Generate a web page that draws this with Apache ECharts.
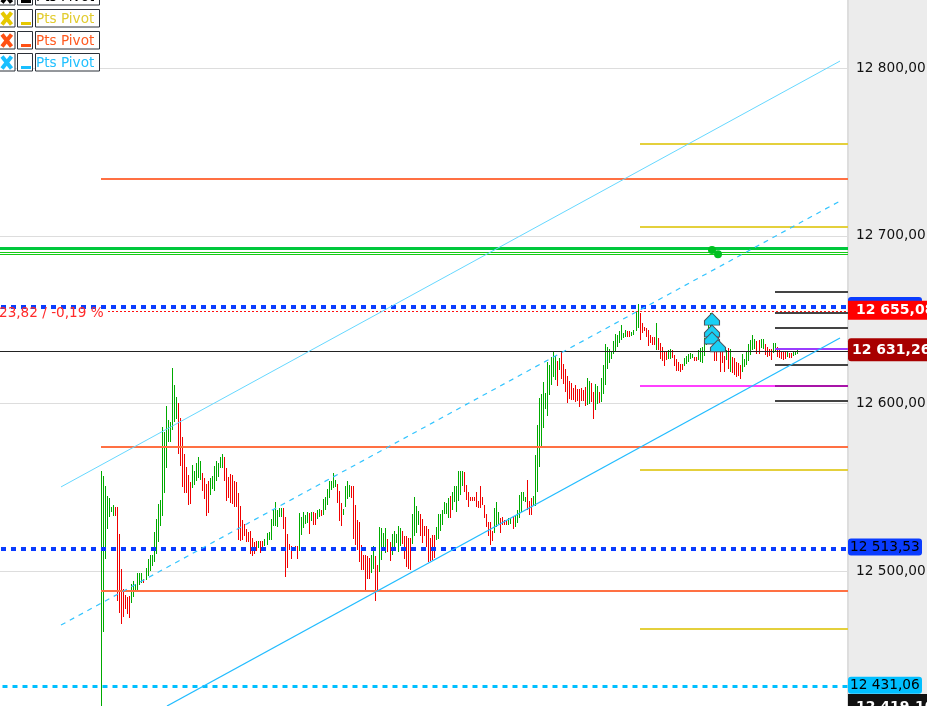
<!DOCTYPE html>
<html><head><meta charset="utf-8">
<style>html,body{margin:0;padding:0;background:#fff}#c{width:927px;height:706px}</style>
<script src="https://cdn.jsdelivr.net/npm/echarts@6/dist/echarts.min.js"></script>
</head><body><div id="c"></div>
<script>
// [high, low, dir] one per bar (1 = up/green, 0 = down/red)
var priceBars = [
[12559.8,12419.5,1],[12556.8,12463.8,1],[12550.8,12507.3,1],[12544.9,12525.2,1],[12543.7,12532.4,1],
[12538.3,12535.3,1],[12539.5,12532.9,1],[12538.3,12532.9,0],[12538.3,12482.3,0],[12522.2,12475.1,0],
[12501.3,12468.5,0],[12489.4,12472.7,0],[12485.9,12477.5,0],[12484.7,12474.5,0],[12485.3,12472.1,0],
[12492.4,12481.1,1],[12494.2,12484.7,1],[12492.4,12488.8,1],[12498.9,12488.8,1],[12498.9,12491.8,1],
[12498.9,12493.0,1],[12495.4,12493.0,0],[12501.9,12494.8,1],[12507.3,12497.2,1],[12509.7,12500.1,1],
[12509.7,12503.1,1],[12523.4,12505.5,1],[12531.2,12510.3,1],[12540.1,12517.4,1],[12542.5,12527.0,1],
[12586.0,12532.9,1],[12583.0,12546.7,1],[12598.6,12561.6,1],[12590.2,12577.1,1],[12589.0,12577.1,1],
[12621.2,12584.2,1],[12611.1,12589.0,1],[12603.9,12590.8,1],[12600.3,12569.9,0],[12591.4,12562.8,0],
[12580.1,12550.2,0],[12569.9,12546.7,0],[12562.2,12546.7,0],[12557.4,12539.5,0],[12553.2,12540.1,0],
[12563.4,12549.6,1],[12559.8,12551.4,1],[12564.6,12553.8,1],[12568.2,12555.6,1],[12565.8,12554.4,1],
[12558.6,12547.9,0],[12555.6,12543.1,0],[12552.0,12532.9,0],[12553.8,12534.7,0],[12555.6,12545.5,1],
[12556.8,12549.0,1],[12562.8,12547.9,1],[12565.8,12553.8,1],[12564.6,12556.2,1],[12568.2,12561.6,1],
[12569.9,12561.6,1],[12568.2,12553.8,0],[12561.6,12541.9,0],[12556.2,12543.7,0],[12558.0,12540.7,0],
[12557.4,12540.1,0],[12553.8,12538.3,0],[12553.2,12538.3,0],[12546.7,12518.6,0],[12538.9,12518.0,0],
[12530.6,12518.6,0],[12528.2,12521.0,0],[12525.2,12517.4,0],[12523.4,12517.4,0],[12524.0,12510.3,0],
[12519.8,12509.1,0],[12517.4,12510.3,0],[12518.0,12512.1,0],[12518.0,12513.9,1],[12518.0,12510.9,0],
[12518.0,12512.7,0],[12519.2,12515.1,1],[12522.8,12515.7,1],[12523.4,12518.6,1],
[12531.2,12518.6,1],[12536.5,12527.0,1],[12541.3,12527.0,1],[12536.5,12526.4,1],[12537.7,12532.4,1],
[12537.7,12532.4,1],[12537.7,12525.2,0],[12532.4,12496.6,0],[12522.2,12501.9,0],[12516.3,12512.7,0],
[12515.1,12507.3,0],[12513.3,12512.1,1],[12515.1,12512.7,0],[12515.1,12507.3,0],[12534.7,12512.1,1],
[12532.4,12521.6,1],[12535.3,12525.8,1],[12533.5,12528.2,1],[12535.3,12528.8,1],[12534.7,12522.2,0],
[12535.3,12530.0,1],[12535.3,12527.6,0],[12534.7,12527.6,0],[12536.5,12531.2,1],[12537.1,12532.4,1],
[12536.5,12532.9,0],[12543.1,12533.5,1],[12544.3,12536.5,1],[12549.0,12539.5,1],[12553.8,12543.7,1],
[12553.8,12548.5,1],[12558.6,12549.6,1],[12554.4,12550.2,1],[12552.0,12540.7,0],[12547.9,12530.0,0],
[12540.7,12527.0,0],[12537.1,12533.5,1],[12550.8,12538.3,1],[12553.8,12543.1,1],[12551.4,12544.3,1],
[12550.8,12543.7,0],[12550.8,12519.2,0],[12539.5,12515.7,0],[12530.6,12512.7,0],[12529.4,12505.5,0],
[12515.7,12500.7,0],[12509.7,12500.7,0],[12509.7,12488.8,0],[12509.1,12495.4,0],[12507.9,12495.4,0],
[12509.7,12498.9,1],[12515.1,12501.3,1],[12509.1,12482.3,0],[12503.7,12488.8,0],[12526.4,12499.5,1],
[12525.8,12506.7,1],[12522.8,12513.9,1],[12525.8,12510.9,1],[12519.2,12511.5,0],[12517.4,12506.1,0],
[12522.2,12509.7,1],[12524.0,12513.3,1],[12522.2,12516.8,1],[12527.0,12511.5,1],[12525.8,12515.1,1],
[12524.0,12516.3,0],[12521.0,12507.3,0],[12521.0,12502.5,0],[12519.8,12501.3,0],[12519.8,12500.7,0],
[12534.1,12516.3,1],[12544.3,12521.0,1],[12538.9,12522.8,1],[12535.9,12527.6,1],[12534.1,12521.0,0],
[12531.2,12516.8,0],[12527.0,12521.0,0],[12527.0,12514.5,0],[12525.2,12505.5,0],[12519.8,12506.1,0],
[12521.6,12506.7,0],[12521.6,12507.9,0],[12526.4,12518.6,1],[12534.1,12519.2,1],[12534.1,12524.0,1],
[12536.5,12527.6,1],[12541.3,12534.1,1],[12540.7,12534.1,1],[12543.7,12531.8,1],[12544.9,12531.8,0],
[12547.3,12536.5,1],[12550.8,12541.3,1],[12550.8,12535.3,1],[12559.8,12541.9,1],[12559.8,12545.5,1],
[12559.8,12550.8,1],[12559.2,12547.3,0],[12551.4,12542.5,0],[12547.3,12538.3,0],
[12544.3,12541.9,0],[12544.3,12541.9,0],[12544.3,12541.9,0],[12547.3,12538.3,0],[12541.9,12537.7,0],
[12550.8,12537.7,0],[12544.3,12539.5,0],[12539.5,12531.8,0],[12534.1,12526.4,0],[12529.4,12521.0,0],
[12529.4,12515.7,0],[12524.0,12518.0,0],[12537.7,12522.8,1],[12541.3,12526.4,1],[12535.3,12528.2,1],
[12531.8,12522.8,0],[12532.4,12527.6,0],[12530.6,12527.6,0],[12530.6,12527.6,0],[12531.8,12527.6,1],
[12531.8,12528.2,1],[12532.4,12525.2,0],[12532.9,12526.4,1],[12536.5,12528.8,1],[12545.5,12531.8,1],
[12547.3,12535.3,1],[12547.3,12541.9,1],[12544.3,12541.3,1],[12554.4,12536.5,0],[12541.9,12533.5,0],
[12543.7,12533.5,0],[12544.9,12539.5,1],[12569.3,12538.9,1],[12587.2,12547.3,1],[12603.3,12562.2,1],
[12605.7,12574.7,1],[12612.9,12585.4,1],[12606.3,12596.8,1],[12624.8,12592.6,1],[12623.0,12605.1,1],
[12627.8,12611.1,1],[12630.8,12615.9,1],[12628.4,12614.1,1],[12625.4,12610.5,0],[12627.2,12620.0,1],
[12630.8,12614.7,0],[12623.6,12611.7,0],[12620.6,12606.9,0],[12616.5,12600.3,0],[12613.5,12602.7,0],
[12612.3,12602.1,0],[12609.3,12602.1,0],[12611.1,12600.9,0],[12608.7,12601.5,0],[12608.7,12598.0,0],
[12609.3,12601.5,0],[12608.1,12601.5,0],[12609.9,12598.6,0],[12615.3,12599.2,1],[12613.5,12599.8,1],
[12612.3,12600.9,0],[12606.9,12590.8,0],[12611.7,12596.2,1],[12610.5,12599.8,1],[12606.9,12600.3,0],
[12615.3,12600.9,1],[12623.0,12605.7,1],[12635.5,12611.1,1],[12633.7,12620.6,1],[12632.6,12624.2,1],
[12631.4,12626.6,1],[12637.3,12629.6,1],[12641.5,12630.8,1],[12640.9,12633.8,1],[12643.3,12636.1,1],
[12646.9,12637.9,1],[12642.1,12639.1,1],[12643.9,12639.7,1],[12643.3,12639.7,0],[12643.3,12639.7,0],
[12642.7,12640.3,1],[12643.9,12640.9,1],[12655.2,12643.3,1],[12659.4,12645.1,1],[12654.0,12637.9,0],
[12648.1,12642.1,0],[12645.7,12643.3,0],[12645.1,12639.7,0],[12643.9,12634.4,0],[12640.9,12636.1,0],
[12639.7,12634.9,0],[12639.7,12634.9,0],[12648.1,12632.0,1],[12639.1,12632.0,0],[12636.1,12626.6,0],
[12633.7,12625.4,0],[12630.8,12622.4,0],[12630.8,12626.0,0],[12632.0,12626.6,1],[12632.6,12626.6,1],
[12632.0,12627.2,0],[12629.0,12622.4,0],[12626.6,12619.4,0],[12624.8,12619.4,0],[12623.6,12618.8,0],
[12623.6,12620.0,0],[12627.2,12622.4,1],[12628.4,12623.6,1],[12629.6,12624.8,1],[12630.2,12626.6,1],
[12629.6,12627.2,1],[12627.8,12625.4,0],[12627.8,12625.4,0],[12632.0,12626.0,1],[12633.2,12624.8,1],
[12633.8,12624.2,1],[12639.1,12628.4,1],[12640.9,12634.9,1],[12649.9,12636.7,1],
[12654.0,12640.9,1],[12646.9,12639.1,1],[12633.2,12625.4,0],[12632.0,12625.4,0],[12642.7,12632.0,0],
[12633.2,12618.8,0],[12632.0,12624.2,0],[12628.4,12618.8,0],[12632.0,12626.0,1],[12633.2,12620.6,0],
[12632.6,12618.8,1],[12627.8,12618.2,0],[12627.2,12617.0,0],[12624.8,12615.9,0],[12624.2,12616.5,0],
[12623.0,12614.7,0],[12629.6,12618.8,1],[12626.6,12621.8,1],[12630.8,12623.0,1],[12635.5,12625.4,1],
[12637.9,12629.0,1],[12640.9,12632.0,1],[12638.5,12632.6,1],[12637.3,12629.6,0],[12637.9,12629.6,0],
[12638.5,12633.2,1],[12638.5,12632.6,1],[12635.5,12629.0,0],[12633.8,12627.8,0],[12632.6,12628.4,0],
[12632.6,12626.0,0],[12636.1,12630.2,1],[12636.1,12630.8,1],[12633.8,12627.8,0],[12632.6,12627.2,0],
[12631.4,12626.6,0],[12630.8,12626.0,0],[12630.8,12626.6,0],[12630.8,12627.8,1],[12630.2,12627.2,0],
[12630.2,12627.2,0],[12630.8,12628.4,1],[12631.4,12629.0,1],[12632.0,12629.6,1]
];
var firstBarSlot = 50.8265;
var barStepSlots = 1.008225;
var yTicks = [12400,12500,12600,12700,12800,12900];

// [startSlot, endSlot, price]
var greenThick = [[0,424,12692.5]];
var greenThin = [[0,424,12690.1],[0,424,12688.9]];
var blueDotted = [[0.5,424,12657.6],[0.5,424,12513.53]];
var cyanDashed = [[1.25,424,12431.06]];
var redDotted = [[54,424,12655.08]];
var blackLine = [[0,424,12631.26]];
var orangeLevels = [[50.5,424,12733.9],[50.5,424,12574.1],[50.5,424,12488.2]];
var yellowLevels = [[320,424,12754.8],[320,424,12705.3],[320,424,12560.4],[320,424,12465.6]];
var magentaLevels = [[320,387.5,12610.7]];
var darkMagentaLevels = [[387.5,424,12610.7]];
var purpleLevels = [[387.5,424,12632.6]];
var pivotLevels = [[387.5,424,12666.5],[387.5,424,12654.2],[387.5,424,12645.1],[387.5,424,12623.0],[387.5,424,12601.5]];

// trend lines [[slot,price],[slot,price]]
var channelTop = [[30.5,12550.3],[420,12804.3]];
var channelMid = [[30.5,12467.9],[420,12720.8]];
var channelLow = [[83.5,12419.6],[420,12639.1]];

var greenDots = [[356,12691.6],[359,12689]];
var arrowMarks = [[356,12650.4],[356,12643.3],[356,12639.1],[359,12634.5]];

var legendRowColors = ['#000000','#e6c800','#ff5014','#19bfff'];
var legendTextColors = ['#000000','#e2cc30','#ff5a20','#22c0ff'];
var legendLabel = 'Pts Pivot';
var changeText = '23,82 / -0,19 %';

var font = '"DejaVu Sans"';
function fmt(v,dec){
  var s = v.toFixed(dec).split('.');
  var ip = s[0];
  return ip.slice(0,ip.length-3)+' '+ip.slice(-3)+','+s[1];
}
function levelSeries(rows,color,w,dash,z){
  return {type:'custom',coordinateSystem:'cartesian2d',data:rows,silent:true,clip:false,z:z||4,
    encode:{x:[0,1],y:2},
    renderItem:function(p,api){
      var a=api.coord([api.value(0),api.value(2)]),b=api.coord([api.value(1),api.value(2)]);
      var y=Math.round(a[1]-w/2)+w/2;
      return {type:'line',shape:{x1:a[0],y1:y,x2:b[0],y2:y},
        style:{stroke:color,lineWidth:w,lineDash:dash||null,fill:null}};
    }};
}
function trend(pts,color,w,dash){
  return {type:'line',data:pts,showSymbol:false,silent:true,animation:false,clip:true,z:4,
    lineStyle:{color:color,width:w,type:dash||'solid'}};
}
function tag(value,bg,txt,bold,box,z,text){
  return {type:'scatter',data:[[424,value]],symbolSize:0,silent:true,clip:false,z:z,
    itemStyle:{opacity:1},
    label:{show:true,position:'right',distance:0,offset:[0,box.off],opacity:1,
      formatter:text||fmt(value,2),color:txt,fontFamily:font,fontSize:box.fs||13.7,fontWeight:bold?'bold':'normal',
      backgroundColor:bg,borderRadius:box.r,padding:box.pad,width:box.w,height:box.h,lineHeight:box.h,
      align:'left',verticalAlign:'middle',overflow:'none'}};
}
var barRows=priceBars.map(function(b,k){ return [firstBarSlot+barStepSlots*k,b[0],b[1],b[2]]; });

var graphics=[
  {type:'rect',shape:{x:848,y:0,width:79,height:706},style:{fill:'#ececec'},z:-10,silent:true},
  {type:'rect',shape:{x:847,y:0,width:2,height:706},style:{fill:'#dddddd'},z:-9,silent:true},
  {type:'text',x:-1,y:313,z:50,silent:true,style:{text:changeText,fill:'#ff2a2a',font:'13.6px '+font,textAlign:'left',textVerticalAlign:'middle'}}
];
legendRowColors.forEach(function(c,i){
  var top=-13+22*i+0.5, bx='#2b3038';
  graphics.push({type:'rect',shape:{x:-2,y:top,width:17,height:17.5},style:{fill:'#fff',stroke:bx,lineWidth:1},z:60,silent:true});
  graphics.push({type:'rect',shape:{x:17.5,y:top,width:15,height:17.5},style:{fill:'#fff',stroke:bx,lineWidth:1},z:60,silent:true});
  graphics.push({type:'rect',shape:{x:35.5,y:top,width:64,height:17.5},style:{fill:'#fff',stroke:bx,lineWidth:1},z:60,silent:true});
  graphics.push({type:'line',shape:{x1:2,y1:top+3,x2:11.5,y2:top+15},style:{stroke:c,lineWidth:4},z:61,silent:true});
  graphics.push({type:'line',shape:{x1:11.5,y1:top+3,x2:2,y2:top+15},style:{stroke:c,lineWidth:4},z:61,silent:true});
  graphics.push({type:'rect',shape:{x:21,y:top+12.5,width:10,height:3},style:{fill:c},z:61,silent:true});
  graphics.push({type:'text',x:36,y:top+10,z:61,silent:true,style:{text:legendLabel,fill:legendTextColors[i],font:'13.6px '+font,textAlign:'left',textVerticalAlign:'middle'}});
});

var chart=echarts.init(document.getElementById('c'),null,{renderer:'canvas',width:927,height:706});
chart.setOption({
  animation:false,
  backgroundColor:'#ffffff',
  grid:{left:0,width:848,top:-99.4,height:838.3,containLabel:false,outerBoundsMode:'none'},
  xAxis:{type:'value',min:0,max:424,show:false},
  yAxis:{type:'value',position:'right',min:yTicks[0],max:yTicks[yTicks.length-1],interval:100,
    axisLine:{show:false},
    axisTick:{show:true,length:5,lineStyle:{color:'#dddddd'}},
    splitLine:{show:true,lineStyle:{color:'#dddddd',width:1}},
    axisLabel:{margin:8,color:'#111',fontFamily:font,fontSize:13.7,padding:[4,0,0,0],formatter:function(v){return fmt(v,2);}}},
  graphic:{elements:graphics},
  series:[
    {type:'custom',coordinateSystem:'cartesian2d',data:barRows,silent:true,clip:false,z:3,
     encode:{x:0,y:[1,2]},
     renderItem:function(p,api){
       var t=api.coord([api.value(0),api.value(1)]),b=api.coord([api.value(0),api.value(2)]);
       var x=Math.floor(t[0]),y=Math.round(t[1]);
       return {type:'rect',shape:{x:x,y:y,width:1,height:Math.max(1,Math.round(b[1])-y)},
         style:{fill:api.value(3)?'#00aa00':'#f00000'}};
     }},
    levelSeries(blackLine,'#222222',1),
    levelSeries(greenThick,'#00c83c',3),
    levelSeries(greenThin,'#14cc14',1),
    levelSeries(orangeLevels,'#ff7043',2),
    levelSeries(yellowLevels,'#e4d03c',2),
    levelSeries(magentaLevels,'#ff40ff',2),
    levelSeries(darkMagentaLevels,'#a814a8',2),
    levelSeries(purpleLevels,'#9a3cff',2),
    levelSeries(pivotLevels,'#444444',2),
    levelSeries(redDotted,'#ff1010',1,[2,2]),
    trend(channelTop,'#66d8ff',1),
    trend(channelMid,'#33c4ff',1.2,[5,5]),
    trend(channelLow,'#22bcff',1.2),
    levelSeries(blueDotted,'#0a3cff',4,[5,5]),
    levelSeries(cyanDashed,'#00bfff',3,[5,5]),
    {type:'scatter',data:greenDots,symbol:'circle',symbolSize:8,silent:true,z:6,itemStyle:{color:'#00c020',opacity:1}},
    {type:'scatter',data:arrowMarks,symbol:'path://M7 0 L14 7 L14 11 L0 11 L0 7 Z',symbolSize:[15,12],silent:true,z:7,
     itemStyle:{color:'#19d0f5',borderColor:'#4a5560',borderWidth:1,opacity:1}},
    tag(12657.6,'#0a3cff','#000',false,{off:0,r:3,pad:[0,0,0,2],w:72,h:20},8),
    tag(12655.08,'#ff0000','#fff',true,{off:-1,r:0,pad:[5,0,0,8],w:71,h:14,fs:14},9),
    tag(12631.26,'#a80000','#fff',true,{off:-1.3,r:3,pad:[5,0,0,4],w:80,h:18,fs:14},9),
    tag(12513.53,'#0a3cff','#000',false,{off:-1.5,r:3,pad:[7,0,0,2],w:72,h:10},9),
    tag(12431.06,'#00bfff','#000',false,{off:-1.5,r:3,pad:[7,0,0,2],w:72,h:10},9),
    tag(12419.1,'#111111','#fff',true,{off:0,r:0,pad:[0,0,0,8],w:71,h:26,fs:14},8)
  ]
});
</script></body></html>
